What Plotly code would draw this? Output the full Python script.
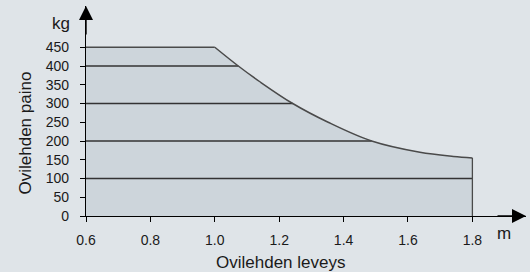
import numpy as np
import plotly.graph_objects as go

# Data
curve_x = [1.0, 1.073, 1.14, 1.242, 1.352, 1.487, 1.637, 1.741, 1.8]
curve_y = [450, 400, 358, 300, 250, 200, 170, 159, 155]
x_start = 0.6
grid_levels = [100, 200, 300, 400]
x_ticks = [0.6, 0.8, 1.0, 1.2, 1.4, 1.6, 1.8]
x_tick_text = ["0.6", "0.8", "1.0", "1.2", "1.4", "1.6", "1.8"]
y_ticks = [0, 50, 100, 150, 200, 250, 300, 350, 400, 450]

BG = "#dfe4e8"
FILL = "#cdd5db"
LINE = "#4a4a4a"
FONT = "Liberation Sans, Arial, sans-serif"

fig = go.Figure()

poly_x = [x_start, x_start] + curve_x + [curve_x[-1], x_start]
poly_y = [0, curve_y[0]] + curve_y + [0, 0]
fig.add_trace(go.Scatter(x=poly_x, y=poly_y, fill="toself", fillcolor=FILL,
                         mode="lines", line=dict(width=0), hoverinfo="skip"))

# grid segments inside the area
rx = curve_x[::-1]
ry = curve_y[::-1]
for lv in grid_levels:
    xe = float(np.interp(lv, ry, rx))
    fig.add_trace(go.Scatter(x=[x_start, xe], y=[lv, lv], mode="lines",
                             line=dict(color="#333333", width=1.3), hoverinfo="skip"))

# outline
fig.add_trace(go.Scatter(x=[x_start, curve_x[0]], y=[curve_y[0], curve_y[0]], mode="lines",
                         line=dict(color=LINE, width=1.5), hoverinfo="skip"))
fig.add_trace(go.Scatter(x=curve_x, y=curve_y, mode="lines", line_shape="spline",
                         line=dict(color=LINE, width=1.5), hoverinfo="skip"))
fig.add_trace(go.Scatter(x=[curve_x[-1], curve_x[-1]], y=[curve_y[-1], 0], mode="lines",
                         line=dict(color=LINE, width=1.3), hoverinfo="skip"))

x_max = 1.9665
y_max = 560

arrow = dict(xref="paper", yref="paper", text="", showarrow=True, arrowhead=2,
             arrowsize=2.0, arrowwidth=1.4, arrowcolor="black", standoff=0, startstandoff=0)

fig.update_layout(
    width=530, height=272,
    margin=dict(l=86, r=4, t=6, b=56),
    paper_bgcolor=BG, plot_bgcolor=BG,
    showlegend=False,
    font=dict(family=FONT, size=14, color="#1a1a1a"),
    xaxis=dict(range=[x_start, x_max], tickvals=x_ticks, ticktext=x_tick_text,
               showgrid=False, zeroline=False, showline=True, linecolor="black",
               linewidth=1.3, ticks="outside", ticklen=5, tickcolor="black",
               ticklabelstandoff=6, fixedrange=True),
    yaxis=dict(range=[0, y_max], tickvals=y_ticks, showgrid=False, zeroline=False,
               showline=True, linecolor="black", linewidth=1.3, ticks="outside",
               ticklen=5, tickcolor="black", ticklabelstandoff=8, fixedrange=True),
    annotations=[
        dict(arrow, x=0, y=1, ax=0, ay=30),
        dict(arrow, x=1, y=0, ax=-30, ay=0),
        dict(text="Ovilehden leveys", xref="paper", yref="paper", x=0.441, y=0,
             yshift=-46, showarrow=False, font=dict(size=17), xanchor="center", yanchor="middle"),
        dict(text="Ovilehden paino", xref="paper", yref="paper", x=-0.1386, y=0.393,
             textangle=-90, showarrow=False, font=dict(size=17), xanchor="center", yanchor="middle"),
        dict(text="kg", xref="paper", yref="paper", x=-0.0568, y=0.919, showarrow=False,
             font=dict(size=17), xanchor="center", yanchor="middle"),
        dict(text="m", xref="paper", yref="paper", x=0.95, y=-0.081, showarrow=False,
             font=dict(size=17), xanchor="center", yanchor="middle"),
    ],
)

fig.write_html("out.html", config={"displayModeBar": False},
               post_script="document.body.style.margin='0';")
